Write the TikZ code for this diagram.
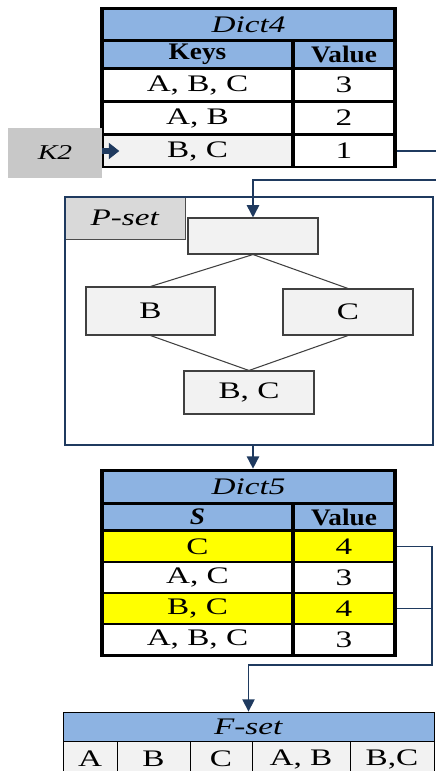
\documentclass[tikz,border=0pt]{standalone}
\usepackage{fontspec}
\setmainfont{Liberation Serif}[FakeStretch=1.4]
\newfontfamily\headfont{Liberation Serif}[FakeStretch=1.15]
\usepackage{tikz}
\usetikzlibrary{arrows.meta}
\definecolor{HeadBlue}{HTML}{8DB3E2}
\definecolor{CellGray}{HTML}{F2F2F2}
\definecolor{KeyGray}{HTML}{C8C8C8}
\definecolor{TagGray}{HTML}{D9D9D9}
\definecolor{LinkNavy}{HTML}{1F3A5F}
\definecolor{HitYellow}{HTML}{FFFF00}

\begin{document}
\fontsize{13.5}{16}\selectfont
\begin{tikzpicture}[x=0.02cm,y=-0.02cm,
  frame/.style={fill=black,inner sep=0pt,minimum width=5.94cm},
  cell/.style={fill=white,inner sep=0pt,minimum height=0.6cm},
  keycell/.style={cell,minimum width=3.74cm},
  valcell/.style={cell,minimum width=1.96cm},
  headcell/.style={fill=HeadBlue,font=\headfont\bfseries},
  titlecell/.style={cell,fill=HeadBlue,minimum width=5.78cm,font=\itshape},
  latbox/.style={draw=black!75,fill=CellGray,line width=0.6pt,inner sep=0pt,minimum width=2.6cm},
  fcell/.style={draw=black,line width=0.5pt,fill=CellGray,inner sep=0pt,minimum height=0.72cm},
  link/.style={draw=LinkNavy,line width=0.9pt},
  tip/.style={-{Triangle[width=7pt,length=7pt]}}]
  \useasboundingbox (0,0) rectangle (436,771);
  \clip (0,0) rectangle (436,771);

  % Dict4
  \node[frame,minimum height=3.22cm] (d4) at (248.5,87.5) {};
  \node[titlecell] (t4) at (248.5,24.5) {Dict4};
  \node[keycell,headcell,minimum height=0.5cm] (h4k) at (197.5,54.5) {Keys};
  \node[valcell,headcell,minimum height=0.5cm] (h4v) at (344,54.5) {Value};
  \node[keycell] (k41) at (197.5,85) {A, B, C};
  \node[valcell] (v41) at (344,85) {3};
  \node[keycell] (k42) at (197.5,118) {A, B};
  \node[valcell] (v42) at (344,118) {2};
  \node[keycell,fill=CellGray] (k43) at (197.5,151) {B, C};
  \node[valcell] (v43) at (344,151) {1};

  \node[fill=KeyGray,inner sep=0pt,minimum width=1.88cm,minimum height=1cm,font=\fontsize{12}{14}\selectfont\itshape] (k2) at (55,153) {K2};
  \draw[LinkNavy,line width=3.5pt,-{Triangle[width=9pt,length=6pt]}] (k2.east |- k43) -- ++(17,0);

  % P-set lattice
  \node[draw=gray!60!black,fill=TagGray,line width=0.5pt,inner sep=0pt,minimum width=2.4cm,minimum height=0.84cm] (ptag) at (125,218) {\textit{P-set}};
  \node[draw=LinkNavy,line width=0.9pt,inner sep=0pt,minimum width=7.36cm,minimum height=4.96cm] (pset) at (249,321) {};
  \node[latbox,minimum height=0.72cm] (ptop) at (253,236) {};
  \node[latbox,minimum width=2.58cm,minimum height=0.96cm] (pb) at (150.5,311) {B};
  \node[latbox,minimum height=0.92cm] (pc) at (348,312) {C};
  \node[latbox,minimum height=0.86cm] (pbc) at (249,392.5) {B, C};
  \draw[black!75,line width=0.6pt] (ptop.south) -- (pb.north);
  \draw[black!75,line width=0.6pt] (ptop.south) -- (pc.north);
  \draw[black!75,line width=0.6pt] (pb.south) -- (pbc.north);
  \draw[black!75,line width=0.6pt] (pc.south) -- (pbc.north);

  % Dict5
  \node[frame,minimum height=3.76cm] (d5) at (248.5,563) {};
  \node[titlecell] (t5) at (248.5,487) {Dict5};
  \node[keycell,headcell,minimum height=0.48cm] (h5k) at (197.5,517) {\textit{S}};
  \node[valcell,headcell,minimum height=0.48cm] (h5v) at (344,517) {Value};
  \node[keycell,fill=HitYellow,minimum height=0.58cm] (k51) at (197.5,546.5) {C};
  \node[valcell,fill=HitYellow,minimum height=0.58cm] (v51) at (344,546.5) {4};
  \node[keycell,minimum height=0.58cm] (k52) at (197.5,577.5) {A, C};
  \node[valcell,minimum height=0.58cm] (v52) at (344,577.5) {3};
  \node[keycell,fill=HitYellow,minimum height=0.58cm] (k53) at (197.5,608.5) {B, C};
  \node[valcell,fill=HitYellow,minimum height=0.58cm] (v53) at (344,608.5) {4};
  \node[keycell,minimum height=0.58cm] (k54) at (197.5,639.5) {A, B, C};
  \node[valcell,minimum height=0.58cm] (v54) at (344,639.5) {3};

  % F-set
  \node[fcell,minimum width=1.08cm] (f1) at (90,759) {A};
  \node[fcell,minimum width=1.46cm] (f2) at (153.5,759) {B};
  \node[fcell,minimum width=1.24cm] (f3) at (221,759) {C};
  \node[fcell,minimum width=1.96cm] (f4) at (301,759) {A, B};
  \node[fcell,minimum width=1.68cm] (f5) at (392,759) {B,C};
  \node[fcell,fill=HeadBlue,minimum width=7.42cm,minimum height=0.58cm] (ft) at (248.5,726.5) {\textit{F-set}};

  % connectors
  \coordinate (d4out) at (446,180);
  \draw[link,tip] (d4.east |- v43) -| (d4out) -| (ptop.north);
  \draw[link,tip] (ptop |- pset.south) -- (ptop |- d5.north);
  \coordinate (d5out) at (432,665);
  \draw[link,tip] (d5.east |- v51) -| (d5out) -| (ft.north);
  \draw[link] (d5.east |- v53) -- (d5out |- v53);
\end{tikzpicture}
\end{document}
